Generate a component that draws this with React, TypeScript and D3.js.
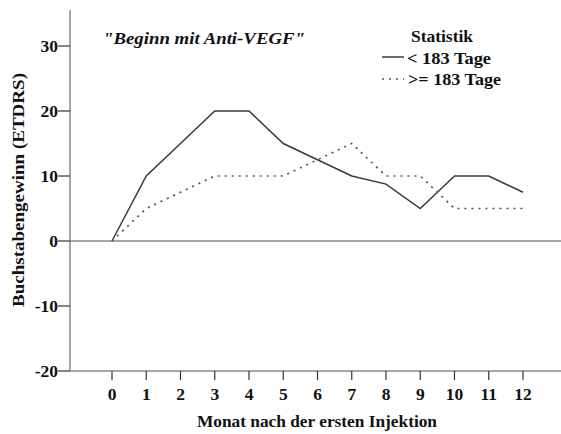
import React from "react";
import * as d3 from "d3";

const months = [0, 1, 2, 3, 4, 5, 6, 7, 8, 9, 10, 11, 12];
const shortSeries = [0, 10, 15, 20, 20, 15, 12.5, 10, 8.75, 5, 10, 10, 7.5];
const longSeries = [0, 5, 7.5, 10, 10, 10, 12.5, 15, 10, 10, 5, 5, 5];
const yTicks = [-20, -10, 0, 10, 20, 30];
const seriesNames = ["< 183 Tage", ">= 183 Tage"];

const W = 561;
const H = 434;
const font = "Liberation Serif";

export default function App() {
  const x = d3.scaleLinear().domain([0, 12]).range([112, 523]);
  const y = d3.scaleLinear().domain([-20, 30]).range([371, 46]);
  const line = d3
    .line<number>()
    .x((_, i) => x(months[i]))
    .y((d) => y(d));
  const axisColor = "#8a8a8a";
  const top = 10;
  const left = 70;
  const right = 561;
  const ts: React.CSSProperties = { fontFamily: font, fontWeight: 700, fontSize: 17, fill: "#111" };
  const tick: React.CSSProperties = { fontFamily: font, fontWeight: 700, fontSize: 17.5, fill: "#111" };
  return (
    <svg
      width={W}
      height={H}
      style={{ position: "absolute", left: 0, top: 0, background: "#fff" }}
    >
      <line x1={left} x2={left} y1={top} y2={y(-20)} stroke={axisColor} strokeWidth={1.5} />
      <line x1={left} x2={right} y1={y(-20)} y2={y(-20)} stroke={axisColor} strokeWidth={1.5} />
      <line x1={left} x2={right} y1={y(0)} y2={y(0)} stroke={axisColor} strokeWidth={1.5} />
      {yTicks.map((t) => (
        <g key={t}>
          <line x1={left - 12} x2={left} y1={y(t)} y2={y(t)} stroke="#333" strokeWidth={1.2} />
          <text x={left - 12} y={y(t)} dy="0.35em" textAnchor="end" style={tick}>
            {t}
          </text>
        </g>
      ))}
      {months.map((m) => (
        <g key={m}>
          <line x1={x(m)} x2={x(m)} y1={y(-20)} y2={y(-20) + 9} stroke="#333" strokeWidth={1.2} />
          <text x={x(m)} y={400} textAnchor="middle" style={tick}>
            {m}
          </text>
        </g>
      ))}
      <text x={197} y={427} textLength={240} lengthAdjust="spacingAndGlyphs" style={ts}>
        Monat nach der ersten Injektion
      </text>
      <text
        transform={`translate(24, 307) rotate(-90)`}
        textLength={234}
        lengthAdjust="spacingAndGlyphs"
        style={ts}
      >
        Buchstabengewinn (ETDRS)
      </text>
      <path d={line(shortSeries) || ""} fill="none" stroke="#3a3a3a" strokeWidth={1.5} />
      <path
        d={line(longSeries) || ""}
        fill="none"
        stroke="#555"
        strokeWidth={1.7}
        strokeDasharray="2,5"
      />
      <text
        x={103}
        y={44}
        textLength={202}
        lengthAdjust="spacingAndGlyphs"
        style={{ ...ts, fontStyle: "italic" }}
      >
        "Beginn mit Anti-VEGF"
      </text>
      <text x={411} y={42} textLength={62} lengthAdjust="spacingAndGlyphs" style={ts}>
        Statistik
      </text>
      <line x1={382} x2={404} y1={57} y2={57} stroke="#3a3a3a" strokeWidth={1.5} />
      <text x={407} y={64} textLength={84} lengthAdjust="spacingAndGlyphs" style={ts}>
        {seriesNames[0]}
      </text>
      <line x1={382} x2={404} y1={79} y2={79} stroke="#555" strokeWidth={1.7} strokeDasharray="2,5" />
      <text x={408} y={85} textLength={93} lengthAdjust="spacingAndGlyphs" style={ts}>
        {seriesNames[1]}
      </text>
    </svg>
  );
}
